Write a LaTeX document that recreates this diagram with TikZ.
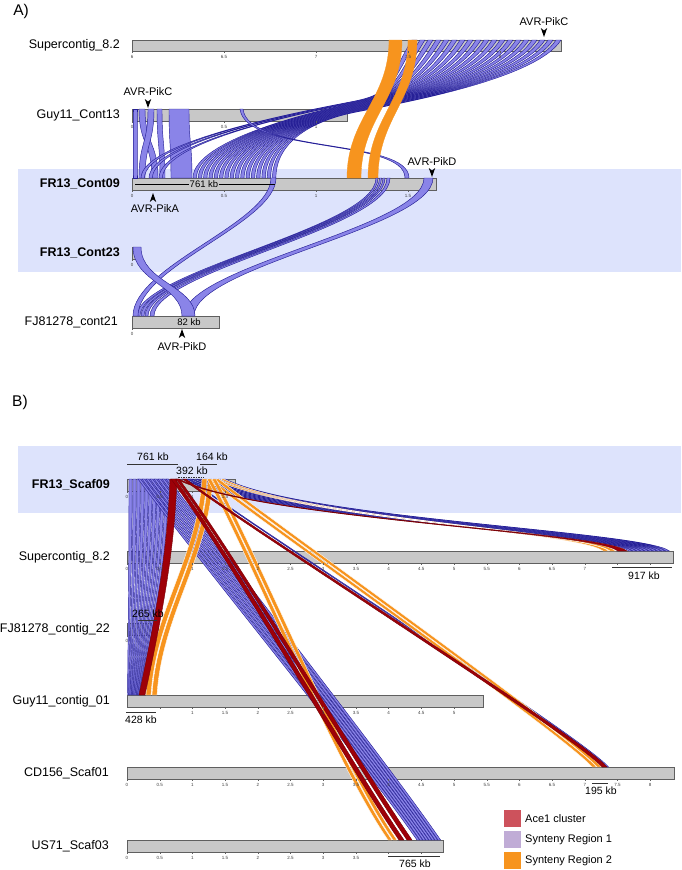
\documentclass[tikz,border=0pt]{standalone}
\usepackage{fontspec}
\setmainfont{Liberation Sans}
\usetikzlibrary{calc}
\definecolor{band}{RGB}{221,227,252}
\definecolor{barf}{RGB}{200,200,200}
\definecolor{bard}{RGB}{95,95,95}
\definecolor{lav}{RGB}{138,132,232}
\definecolor{navy}{RGB}{38,32,150}
\definecolor{orng}{RGB}{247,148,30}
\definecolor{dred}{RGB}{158,0,8}
\definecolor{legred}{RGB}{205,82,92}
\definecolor{leglav}{RGB}{192,172,214}
\newcommand\rib[9]{\path[#1] (#2,#4) .. controls ($(#2,#4)+#8$) and ($(#5,#7)+#9$) .. (#5,#7) -- (#6,#7) .. controls ($(#6,#7)+#9$) and ($(#3,#4)+#8$) .. (#3,#4) -- cycle;}
% fan ribbon: source x1 x2 (y 40), waypoint y, target x1 x2 (y 178)
\newcommand\fan[5]{\path[ribA] (#1,40) .. controls (#1-25,80) and (395,#3-8) .. (355,#3) .. controls (315,#3+8) and (#4,140) .. (#4,178) -- (#5,178) .. controls (#5,140) and (315,#3+8.5) .. (355,#3+0.5) .. controls (395,#3-7.5) and (#2-25,80) .. (#2,40) -- cycle;}
\newcommand\mkd[2]{\fill (#1,#2) -- (#1-3.2,#2-9) -- (#1,#2-6.5) -- (#1+3.2,#2-9) -- cycle;}
\newcommand\mku[2]{\fill (#1,#2) -- (#1-3.2,#2+9) -- (#1,#2+6.5) -- (#1+3.2,#2+9) -- cycle;}
\newcommand\tkB[2]{\foreach \v in {#2}{\pgfmathsetmacro\xx{127+65.4*\v}\draw[tk] (\xx,#1)--(\xx,#1+2);\node[tkl] at (\xx,#1+6) {\v};}}
\newcommand\tkBo[2]{\foreach \v in {#2}{\pgfmathsetmacro\xx{127+65.4*\v}\draw[tk] (\xx,#1)--(\xx,#1+2);}}
\begin{document}
\begin{tikzpicture}[x=1pt,y=-1pt,
  lab/.style={anchor=east,inner sep=0pt,font=\fontsize{12.5}{14}\selectfont},
  labb/.style={anchor=east,inner sep=0pt,font=\fontsize{12.5}{14}\selectfont\bfseries},
  barsty/.style={fill=barf,draw=bard,line width=0.7pt},
  tk/.style={draw=bard,line width=0.3pt},
  tkl/.style={inner sep=0pt,font=\fontsize{4.5}{5}\selectfont,text=black!75},
  ribA/.style={fill=lav,draw=navy,line width=0.45pt},
  ribO/.style={fill=orng,draw=white,line width=0.35pt},
  ribOA/.style={fill=orng,draw=orng,line width=0.3pt},
  ribR/.style={fill=dred,draw=dred!75!black,line width=0.4pt},
  gene/.style={inner sep=0pt,font=\fontsize{11}{12}\selectfont},
  kb/.style={inner sep=0pt,font=\fontsize{10.5}{12}\selectfont},
  sc/.style={line width=0.7pt,draw=black!80},
  legt/.style={anchor=west,inner sep=0pt,font=\fontsize{11}{12}\selectfont}]
\useasboundingbox (0,0) rectangle (681,870);
\fill[white] (0,0) rectangle (681,870);
% bands
\fill[band] (18,169) rectangle (681,272);
\fill[band] (18,446) rectangle (681,513);
% titles
\node[inner sep=0pt,font=\fontsize{15.5}{17}\selectfont] (tA) at (21,11) {A)};
\node[inner sep=0pt,font=\fontsize{15.5}{17}\selectfont] (tB) at (20,402) {B)};
% ---------- panel A bars
\path[barsty] (132,40) rectangle (561,51);
\path[barsty] (132,109) rectangle (347,121);
\path[barsty] (132,178) rectangle (436,190);
\path[barsty] (132,247) rectangle (135,259);
\path[barsty] (132,316) rectangle (219,328);
% ---------- panel A ribbons
\rib{ribA}{133}{137}{109}{133}{137}{178}{(0,30)}{(0,-30)}
\rib{ribA}{139}{145}{109}{152}{158}{178}{(0,35)}{(0,-35)}
\rib{ribA}{148}{154}{109}{139}{145}{178}{(0,35)}{(0,-35)}
\rib{ribA}{157}{162}{109}{160}{165}{178}{(0,35)}{(0,-35)}
\rib{ribA}{169}{189}{109}{171}{192}{178}{(0,35)}{(0,-35)}
\foreach \j in {0,...,18}{
  \pgfmathsetmacro\pA{412+8*\j}
  \pgfmathsetmacro\pB{\pA+5}
  \pgfmathsetmacro\pW{101+0.6*\j}
  \ifnum\j=0 \def\pC{141}\fi
  \ifnum\j=1 \def\pC{149}\fi
  \ifnum\j=2 \def\pC{159}\fi
  \ifnum\j>2 \pgfmathsetmacro\pC{193+5.3*(\j-3)}\fi
  \pgfmathsetmacro\pD{\pC+3.4}
  \fan{\pA}{\pB}{\pW}{\pC}{\pD}
}
\rib{ribA}{240}{243}{109}{405}{409}{178}{(5,45)}{(0,-40)}
\rib{ribOA}{389}{402}{40}{347}{361}{178}{(0,60)}{(0,-60)}
\rib{ribOA}{408}{417}{40}{368}{378}{178}{(0,60)}{(0,-60)}
% A lower
\rib{ribA}{424}{433}{178}{184}{194}{316}{(0,50)}{(0,-50)}
\foreach \a/\b/\c/\d in {376/378/137/140, 379.5/381.5/141/144, 383/385/145/148, 387/390/150/154}{
  \rib{ribA}{\a}{\b}{178}{\c}{\d}{316}{(0,50)}{(0,-45)}
}
\rib{ribA}{271}{276}{178}{133}{138}{316}{(0,45)}{(0,-50)}
\rib{ribA}{133}{141}{247}{182}{195}{316}{(0,35)}{(0,-30)}
% ---------- panel A ticks
\foreach \x/\t in {132/6,224/6.5,316/7,408/7.5,500/8}{\draw[tk] (\x,51)--(\x,53); \node[tkl] at (\x,57) {\t};}
\foreach \x/\t in {132/0,224/0.5,316/1}{\draw[tk] (\x,121)--(\x,123); \node[tkl] at (\x,127) {\t};}
\foreach \x/\t in {132/0,224/0.5,316/1,408/1.5}{\draw[tk] (\x,190)--(\x,192); \node[tkl] at (\x,196) {\t};}
\draw[tk] (132,259)--(132,261); \node[tkl] at (132,265) {0};
\draw[tk] (132,328)--(132,330); \node[tkl] at (132,334) {0};
% panel A scale texts
\draw[line width=0.6pt] (135,184) -- (275,184);
\node[fill=barf,inner sep=1pt,font=\fontsize{9.5}{11}\selectfont] (s761) at (204,184) {761 kb};
\node[inner sep=0pt,font=\fontsize{9.5}{11}\selectfont] (s82) at (189,322.5) {82 kb};
% panel A labels
\node[lab] (a1) at (120,45.5) {Supercontig\_8.2};
\node[lab] (a2) at (120,115) {Guy11\_Cont13};
\node[labb] (a3) at (120,184) {FR13\_Cont09};
\node[labb] (a4) at (120,253) {FR13\_Cont23};
\node[lab] (a5) at (118,322) {FJ81278\_cont21};
% genes
\node[gene] (g1) at (544,22) {AVR-PikC}; \mkd{544}{37}
\node[gene] (g2) at (148,92) {AVR-PikC}; \mkd{148}{108}
\node[gene] (g3) at (432,162) {AVR-PikD}; \mkd{432}{177}
\node[gene] (g4) at (155,209) {AVR-PikA}; \mku{153}{193}
\node[gene] (g5) at (182,347) {AVR-PikD}; \mku{182}{329}
% ---------- panel B bars
\path[barsty] (127,479) rectangle (235,491);
\path[barsty] (127,551) rectangle (673,563);
\path[barsty] (127,623) rectangle (158,635);
\path[barsty] (127,695) rectangle (483,707);
\path[barsty] (127,767) rectangle (674,779);
\path[barsty] (127,840) rectangle (443,852);
% ---------- panel B ribbons
\foreach \i in {0,...,9}{
  \pgfmathsetmacro\pA{129+4*\i}
  \pgfmathsetmacro\pB{\pA+3.2}
  \pgfmathsetmacro\pC{127.5+1.25*\i}
  \pgfmathsetmacro\pD{\pC+1.2}
  \pgfmathsetmacro\ddx{(\pA-\pC)*0.6}
  \rib{ribA}{\pA}{\pB}{479}{\pC}{\pD}{695}{(0,75)}{(\ddx,-85)}
}
\foreach \i in {0,...,7}{
  \pgfmathsetmacro\pA{138+4*\i}
  \pgfmathsetmacro\pB{\pA+2.5}
  \pgfmathsetmacro\pC{417+3*\i}
  \pgfmathsetmacro\pD{\pC+2.6}
  \rib{ribA}{\pA}{\pB}{479}{\pC}{\pD}{840}{(60,81)}{(-55,-80)}
}
\foreach \i in {0,...,9}{
  \pgfmathsetmacro\pA{182+4.6*\i}
  \pgfmathsetmacro\pB{\pA+2}
  \pgfmathsetmacro\pC{629+4.1*\i}
  \pgfmathsetmacro\pD{\pC+3.4}
  \rib{ribA}{\pA}{\pB}{479}{\pC}{\pD}{551}{(80,40)}{(-25,-20)}
}
\rib{ribA}{189}{190.5}{479}{606.5}{608.5}{767}{(50,40)}{(-25,-30)}
% orange
\rib{ribO}{214}{218}{479}{603}{609}{551}{(80,40)}{(-25,-20)}
\rib{ribO}{220}{224}{479}{610}{616}{551}{(80,40)}{(-25,-20)}
\rib{ribO}{207}{212}{479}{592}{596.5}{767}{(50,40)}{(-25,-30)}
\rib{ribO}{214}{219}{479}{597}{601.5}{767}{(50,40)}{(-25,-30)}
\rib{ribO}{202}{207}{479}{146}{151}{695}{(-5,80)}{(5,-80)}
\rib{ribO}{208}{213}{479}{152}{157}{695}{(-5,80)}{(5,-80)}
\rib{ribO}{207}{211}{479}{388}{392}{840}{(45,81)}{(-55,-80)}
\rib{ribO}{212}{216}{479}{393}{397}{840}{(45,81)}{(-55,-80)}
% red
\rib{ribR}{176}{179}{479}{618}{627}{551}{(80,40)}{(-25,-20)}
\rib{ribR}{183}{186}{479}{602}{607}{767}{(50,40)}{(-25,-30)}
\rib{ribR}{170}{177}{479}{139}{145}{695}{(-3,75)}{(18,-85)}
\rib{ribR}{171}{175}{479}{399}{404}{840}{(60,81)}{(-55,-80)}
\rib{ribR}{176}{179}{479}{407}{412}{840}{(60,81)}{(-55,-80)}
% ---------- panel B ticks
\tkB{491}{0,0.5,1,1.5}
\tkB{563}{0,0.5,1,1.5,2,2.5,3,3.5,4,4.5,5,5.5,6,6.5,7}
\tkBo{563}{7.5,8}
\tkB{635}{0}
\tkBo{707}{0.5}
\tkB{707}{1,1.5,2,2.5,3,3.5,4,4.5,5}
\tkB{779}{0,0.5,1,1.5,2,2.5,3,3.5,4,4.5,5,5.5,6,6.5,7,7.5,8}
\tkB{852}{0,0.5,1,1.5,2,2.5,3,3.5}
\tkBo{852}{4,4.5}
% panel B scale marks
\draw[sc] (127,464)--(178,464); \node[kb] (k1) at (153,457) {761 kb};
\draw[sc] (200,464)--(217,464); \node[kb] (k2) at (212,457) {164 kb};
\draw[sc,dash pattern=on 1.5pt off 1pt] (178,477)--(204,477); \node[kb] (k3) at (192,471) {392 kb};
\draw[sc] (612,567)--(672,567); \node[kb] (k4) at (644,576) {917 kb};
\draw[sc] (138,620)--(157,620); \node[kb] (k5) at (148,614) {265 kb};
\draw[sc] (126,712)--(156,712); \node[kb] (k6) at (141,720) {428 kb};
\draw[sc] (592,783)--(608,783); \node[kb] (k7) at (601,791) {195 kb};
\draw[sc] (388,856)--(440,856); \node[kb] (k8) at (415,864) {765 kb};
% panel B labels
\node[labb] (b1) at (110,485) {FR13\_Scaf09};
\node[lab] (b2) at (110,557) {Supercontig\_8.2};
\node[lab] (b3) at (110,629.5) {FJ81278\_contig\_22};
\node[lab] (b4) at (110,701) {Guy11\_contig\_01};
\node[lab] (b5) at (109,773.5) {CD156\_Scaf01};
\node[lab] (b6) at (109,846) {US71\_Scaf03};
% legend
\fill[legred] (504,810) rectangle (521,827); \node[legt] (L1) at (525,819) {Ace1 cluster};
\fill[leglav] (504,831) rectangle (521,848); \node[legt] (L2) at (525,840) {Synteny Region 1};
\fill[orng] (504,852) rectangle (521,869); \node[legt] (L3) at (525,861) {Synteny Region 2};
\end{tikzpicture}
\end{document}
